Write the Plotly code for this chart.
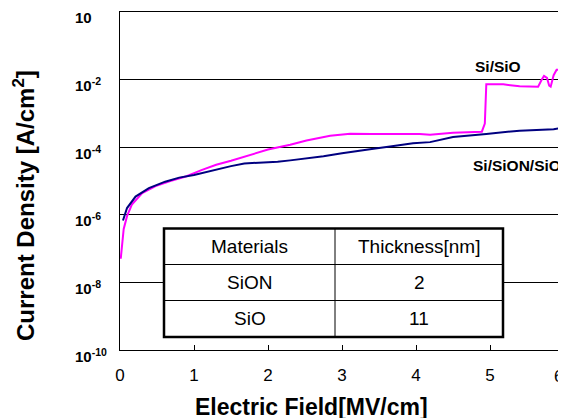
import plotly.graph_objects as go

# ---- data ----
field_sio = [0.01, 0.014, 0.027, 0.05, 0.095, 0.16, 0.30, 0.48, 0.68, 0.90, 1.10, 1.30, 1.50, 1.70,
             2.00, 2.30, 2.52, 2.84, 3.11, 3.40, 3.74, 4.05, 4.19, 4.50, 4.89, 4.93, 4.95, 5.18,
             5.40, 5.65, 5.70, 5.73, 5.77, 5.80, 5.82, 5.86, 5.90, 6.00]
logj_sio = [-7.30, -7.22, -6.81, -6.42, -6.04, -5.70, -5.36, -5.15, -5.00, -4.86, -4.68, -4.52, -4.40, -4.27,
            -4.07, -3.93, -3.80, -3.66, -3.60, -3.61, -3.60, -3.61, -3.63, -3.57, -3.54, -3.30, -2.14, -2.14,
            -2.20, -2.21, -2.00, -1.89, -1.95, -2.18, -2.21, -1.87, -1.71, -1.71]

field_sion = [0.04, 0.095, 0.21, 0.39, 0.61, 0.80, 1.00, 1.22, 1.50, 1.68, 2.00, 2.13, 2.30, 2.53,
              2.75, 3.00, 3.20, 3.45, 3.65, 3.96, 4.19, 4.50, 4.95, 5.40, 5.86, 6.00]
logj_sion = [-6.17, -5.80, -5.46, -5.21, -5.02, -4.90, -4.82, -4.70, -4.56, -4.48, -4.45, -4.43, -4.39, -4.33,
             -4.27, -4.18, -4.11, -4.04, -3.98, -3.88, -3.85, -3.70, -3.61, -3.51, -3.47, -3.41]

y_tick_exps = [0, -2, -4, -6, -8, -10]
y_tick_text = ["10", "10<sup>-2</sup>", "10<sup>-4</sup>", "10<sup>-6</sup>", "10<sup>-8</sup>", "10<sup>-10</sup>"]
x_ticks = [0, 1, 2, 3, 4, 5, 6]

table_header = ["Materials", "Thickness[nm]"]
table_materials = ["SiON", "SiO"]
table_thickness = ["2", "11"]

series_labels = ["Si/SiO", "Si/SiON/SiO"]

FONT = "Arial, Liberation Sans, sans-serif"

# page has an 8px body margin: figure is 8px smaller so the plot lands where the reference has it
PLOT_L, PLOT_T, PLOT_W, PLOT_H = 112, 4, 444, 338
FIG_W, FIG_H = 558, 410

fig = go.Figure()
fig.add_trace(go.Scatter(x=field_sio, y=[10 ** v for v in logj_sio], mode="lines",
                         line=dict(color="#FF00FF", width=2), name=series_labels[0]))
fig.add_trace(go.Scatter(x=field_sion, y=[10 ** v for v in logj_sion], mode="lines",
                         line=dict(color="#000080", width=2), name=series_labels[1]))

fig.update_layout(
    width=FIG_W, height=FIG_H,
    margin=dict(l=PLOT_L, r=FIG_W - PLOT_L - PLOT_W, t=PLOT_T, b=FIG_H - PLOT_T - PLOT_H),
    paper_bgcolor="white", plot_bgcolor="white",
    showlegend=False,
    font=dict(family=FONT, color="black"),
    xaxis=dict(range=[0, 6], tickvals=x_ticks, ticktext=[str(v) for v in x_ticks[:-1]] + [""],
               ticks="inside", ticklen=5, tickcolor="black",
               showline=True, linecolor="black", linewidth=1, mirror=True,
               showgrid=False, zeroline=False,
               tickfont=dict(size=17, family=FONT), ticklabelstandoff=10),
    yaxis=dict(type="log", range=[-10, 0], tickvals=[10 ** e for e in y_tick_exps],
               showticklabels=False, ticks="",
               showline=True, linecolor="black", linewidth=1,
               showgrid=True, gridcolor="black", gridwidth=1, zeroline=False),
)

# reference pixel -> paper coordinates
def px(p):
    return (p - 120) / PLOT_W

def py(p):
    return (350 - p) / PLOT_H

# last x tick label sits on the page edge (partly cut in the reference)
fig.add_annotation(xref="paper", yref="paper", x=px(565), y=py(376), text=str(x_ticks[-1]),
                   showarrow=False, xanchor="right", yanchor="middle",
                   font=dict(size=17, family=FONT, color="black"))

# y tick labels (left aligned like the reference)
for e, t in zip(y_tick_exps, y_tick_text):
    fig.add_annotation(xref="paper", yref="y", x=px(72.5), y=e, text="<b>" + t + "</b>",
                       showarrow=False, xanchor="left", yanchor="middle", yshift=-5,
                       font=dict(size=15, family=FONT, color="black"))

# axis titles
fig.add_annotation(xref="paper", yref="paper", x=px(311), y=py(407),
                   text="<b>Electric Field[MV/cm]</b>", showarrow=False,
                   xanchor="center", yanchor="middle", font=dict(size=23, family=FONT))
fig.add_annotation(xref="paper", yref="paper", x=px(24), y=py(206),
                   text="<b>Current Density [A/cm<sup>2</sup>]</b>", showarrow=False, textangle=-90,
                   xanchor="center", yanchor="middle", font=dict(size=24, family=FONT))

# series labels
fig.add_annotation(xref="paper", yref="paper", x=px(498), y=py(66),
                   text="<b>" + series_labels[0] + "</b>", showarrow=False,
                   xanchor="center", yanchor="middle", font=dict(size=15.5, family=FONT))
fig.add_annotation(xref="paper", yref="paper", x=px(517), y=py(165),
                   text="<b>" + series_labels[1] + "</b>", showarrow=False,
                   xanchor="center", yanchor="middle", font=dict(size=15.5, family=FONT))

# inset table
tx0, tx1, tcol = px(164), px(503), px(335)
ty_rows = [py(228.5), py(264.5), py(300.5), py(337)]
fig.add_shape(type="rect", xref="paper", yref="paper", x0=tx0, x1=tx1, y0=ty_rows[3], y1=ty_rows[0],
              fillcolor="white", line=dict(color="black", width=2.5), layer="above")
for yy in ty_rows[1:3]:
    fig.add_shape(type="line", xref="paper", yref="paper", x0=tx0, x1=tx1, y0=yy, y1=yy,
                  line=dict(color="black", width=1), layer="above")
fig.add_shape(type="line", xref="paper", yref="paper", x0=tcol, x1=tcol, y0=ty_rows[3], y1=ty_rows[0],
              line=dict(color="black", width=1), layer="above")

rows = [table_header] + [[m, t] for m, t in zip(table_materials, table_thickness)]
for i, row in enumerate(rows):
    yc = (ty_rows[i] + ty_rows[i + 1]) / 2
    for j, cell in enumerate(row):
        xc = (tx0 + tcol) / 2 if j == 0 else (tcol + tx1) / 2
        fig.add_annotation(xref="paper", yref="paper", x=xc, y=yc, text=cell, showarrow=False,
                           xanchor="center", yanchor="middle", font=dict(size=19, family=FONT))

fig.write_html("out.html")
